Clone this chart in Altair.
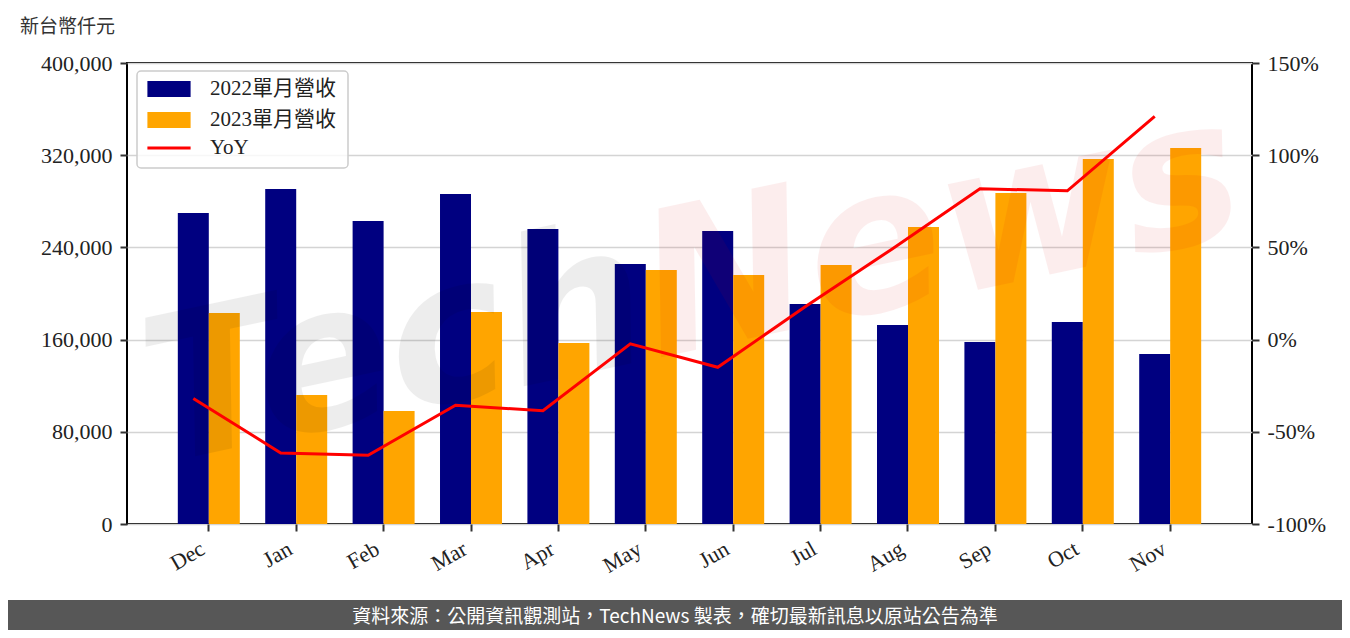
import altair as alt
import pandas as pd

months = ["Dec", "Jan", "Feb", "Mar", "Apr", "May", "Jun", "Jul", "Aug", "Sep", "Oct", "Nov"]
rev_2022 = [269800, 290700, 262900, 286300, 256000, 225600, 254200, 190900, 172700, 157900, 175300, 147500]
rev_2023 = [183100, 111900, 98000, 184000, 157000, 220400, 216000, 224700, 257700, 287200, 316700, 326200]
yoy = [-31.9, -61.5, -62.7, -35.6, -38.6, -2.3, -15.0, 17.8, 49.3, 81.8, 80.7, 121.0]
series = ["2022單月營收", "2023單月營收"]
line_name = ["YoY"]
left_ticks = [0, 80000, 160000, 240000, 320000, 400000]
right_ticks = [-100, -50, 0, 50, 100, 150]
unit_title = "新台幣仟元"
footer_text = "資料來源：公開資訊觀測站，TechNews 製表，確切最新訊息以原站公告為準"

bars_df = pd.DataFrame({
    "month": months * 2,
    "series": [series[0]] * len(months) + [series[1]] * len(months),
    "rev": rev_2022 + rev_2023,
})
line_df = pd.DataFrame({"month": months, "yoy": yoy, "name": line_name * len(months)})
one = alt.Data(values=[{"k": 1}])

SERIF = "Liberation Serif, Noto Sans CJK TC, serif"
CJK = "Noto Sans CJK TC"

x_scale = alt.Scale(domain=months, paddingInner=0, paddingOuter=0.436)
x_axis = alt.Axis(title=None, labelAngle=-30, labelAlign="right", labelBaseline="top",
                  labelFont=SERIF, labelFontSize=22, labelColor="#222222",
                  tickSize=7, tickWidth=2, tickColor="#333333", domain=False,
                  grid=False, labelPadding=7, labelOffset=-11)

bars = alt.Chart(bars_df).mark_bar().encode(
    x=alt.X("month:N", scale=x_scale, axis=x_axis, sort=months),
    xOffset=alt.XOffset("series:N", scale=alt.Scale(domain=series, paddingOuter=0.41, paddingInner=0)),
    y=alt.Y("rev:Q", scale=alt.Scale(domain=[0, 400000], nice=False),
            axis=alt.Axis(title=None, values=left_ticks, format=",.0f", orient="left",
                          labelFont=SERIF, labelFontSize=22, labelColor="#222222",
                          tickSize=7, tickWidth=2, tickColor="#333333", labelPadding=8,
                          domain=False, grid=True, gridColor="#d4d4d4", gridWidth=1.5)),
    color=alt.Color("series:N", scale=alt.Scale(domain=series, range=["#000080", "#FFA500"]),
                    legend=alt.Legend(title=None, orient="none", legendX=31.5, legendY=15.5,
                                      symbolType="M-2.7,-1H2.7V1H-2.7Z", symbolSize=256,
                                      symbolStrokeWidth=0, symbolOpacity=1,
                                      labelFont=SERIF, labelFontSize=21, labelColor="#222222",
                                      labelOffset=30.5, rowPadding=9, padding=0)),
)

line = alt.Chart(line_df).mark_line(strokeWidth=3).encode(
    x=alt.X("month:N", scale=x_scale, axis=x_axis, sort=months, bandPosition=0.323),
    y=alt.Y("yoy:Q", scale=alt.Scale(domain=[-100, 150], nice=False),
            axis=alt.Axis(title=None, values=right_ticks, orient="right",
                          labelExpr="datum.value + '%'",
                          labelFont=SERIF, labelFontSize=22, labelColor="#222222",
                          tickSize=7, tickWidth=2, tickColor="#333333", labelPadding=8,
                          domain=False, grid=False)),
    stroke=alt.Stroke("name:N", scale=alt.Scale(domain=line_name, range=["#FF0000"]),
                      legend=alt.Legend(title=None, orient="none", legendX=31.5, legendY=74.5,
                                        symbolType="M-2.7,0H2.7", symbolSize=256,
                                        symbolStrokeWidth=3,
                                        labelFont=SERIF, labelFontSize=21, labelColor="#222222",
                                        labelOffset=30.5, padding=0)),
)

wm_tech = alt.Chart(one).mark_text(text="Tech", font="DejaVu Sans", fontSize=200, fontWeight="bold",
                                   fontStyle="italic", angle=348, align="right",
                                   baseline="alphabetic", color="black", opacity=0.065).encode(
    x=alt.value(530), y=alt.value(295))
wm_news = alt.Chart(one).mark_text(text="News", font="DejaVu Sans", fontSize=200, fontWeight="bold",
                                   fontStyle="italic", angle=348, align="left",
                                   baseline="alphabetic", color="#E00000", opacity=0.065).encode(
    x=alt.value(530), y=alt.value(295))

legend_box = alt.Chart(one).mark_rect(cornerRadius=4, fill="white", fillOpacity=0.8,
                                      stroke="#cccccc", strokeWidth=1.5).encode(
    x=alt.value(10), x2=alt.value(221), y=alt.value(8), y2=alt.value(105))

title = alt.Chart(one).mark_text(text=unit_title, font=CJK, fontSize=19, align="left",
                                 baseline="middle", color="#333333").encode(
    x=alt.value(-107), y=alt.value(-36))

footer_bg = alt.Chart(one).mark_rect(color="#575757").encode(
    x=alt.value(-119), x2=alt.value(1215), y=alt.value(537), y2=alt.value(567))
footer = alt.Chart(one).mark_text(text=footer_text, font=CJK, fontSize=19, align="center",
                                  baseline="middle", color="white").encode(
    x=alt.value(548), y=alt.value(554))

chart = alt.layer(bars, wm_tech, wm_news, line, legend_box, title, footer_bg, footer).resolve_scale(
    y="independent"
).properties(
    width=1125, height=461,
    padding={"left": 119, "top": 55, "right": 90, "bottom": 106},
    autosize=alt.AutoSizeParams(type="none"),
    background="white",
).configure_view(stroke="black", strokeWidth=2)

chart.save("out.html", embed_options={"renderer": "svg", "actions": False})
